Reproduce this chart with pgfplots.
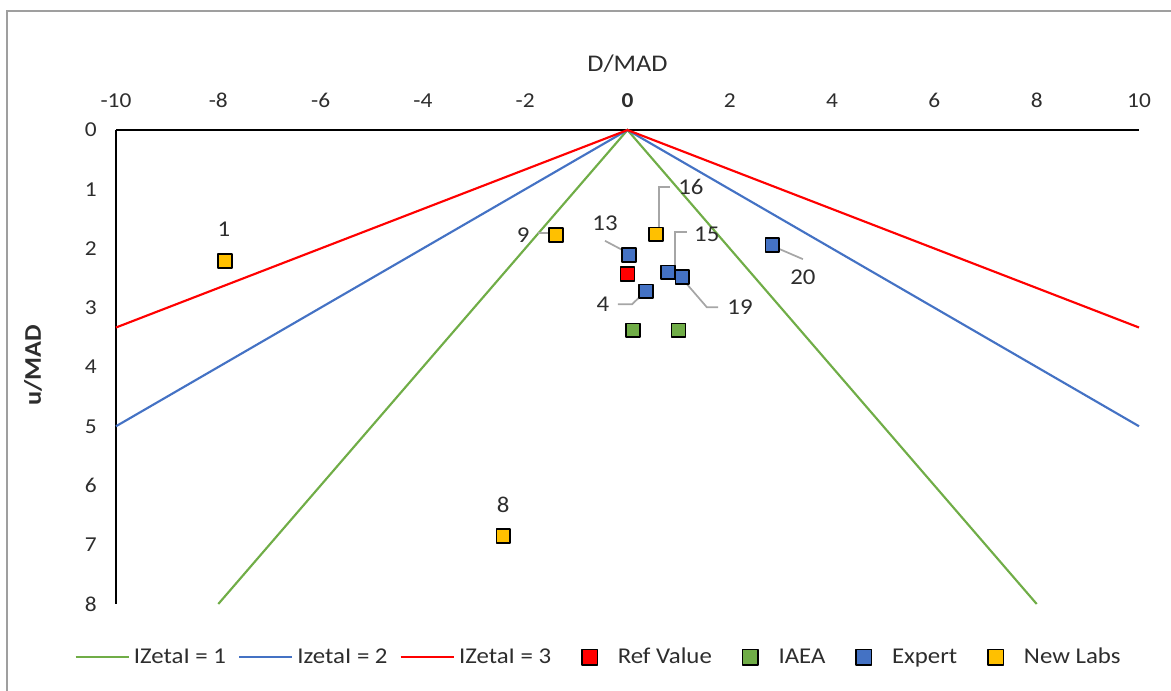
\documentclass[border=0pt]{standalone}
\usepackage{pgfplots}
\pgfplotsset{compat=1.18}
\usepackage{fontspec}
\setmainfont{Carlito}[FakeStretch=1.1]

\definecolor{zgreen}{RGB}{112,173,71}
\definecolor{zblue}{RGB}{68,114,196}
\definecolor{zred}{RGB}{255,0,0}
\definecolor{zgold}{RGB}{255,192,0}
\definecolor{leader}{RGB}{166,166,166}
\definecolor{txt}{RGB}{45,45,45}

\tikzset{
  ptlabel/.style={font=\fontsize{17}{20}\selectfont, text=txt, inner sep=0pt},
  lead/.style={leader, line width=1.3bp},
}
\pgfplotsset{
  sq/.style={only marks, mark=square*, mark size=5.2bp,
    mark options={fill=#1, draw=black, line width=1.1bp, line join=round},
    legend image code/.code={
      \path[draw=none, fill=none] (0bp,0bp) -- (38bp,0bp);
      \draw[fill=#1, draw=black, line width=1.1bp, line join=round]
        (14bp,-5.8bp) rectangle (25.6bp,5.8bp);}},
  zline/.style={#1, line width=1.6bp,
    legend image code/.code={\draw[#1, line width=1.6bp] (0bp,0bp) -- (40bp,0bp);}},
}

\begin{document}
\begin{tikzpicture}
\useasboundingbox (-87bp,-65.25bp) rectangle (791.25bp,453bp);
% chart frame
\draw[gray!75, line width=1.5bp] (-81.75bp,-80bp) -- (-81.75bp,444.75bp) -- (820bp,444.75bp);

\begin{axis}[
  at={(0,0)}, anchor=south west,
  scale only axis, width=767.25bp, height=355.5bp,
  xmin=-10, xmax=10, ymin=0, ymax=8,
  y dir=reverse,
  axis x line*=top, axis y line*=left,
  axis line style={black, line width=1.6bp, -},
  major tick length=0pt,
  xtick={-10,-8,...,10},
  xticklabels={-10,-8,-6,-4,-2,\textbf{0},2,4,6,8,10},
  ytick={0,1,...,8},
  yticklabels={0,1,2,3,4,5,6,7,8},
  tick label style={font=\fontsize{16}{19}\selectfont, text=txt},
  xticklabel style={yshift=13bp},
  yticklabel style={xshift=-11bp},
  xlabel={D/MAD},
  xlabel style={at={(axis description cs:0.5,1)}, anchor=center, yshift=50bp,
    font=\fontsize{18}{21}\selectfont, text=txt},
  ylabel={\textbf{u/MAD}},
  ylabel style={at={(axis description cs:-0.081,0.504)}, anchor=center,
    font=\fontsize{18}{21}\selectfont, text=txt},
  legend style={at={(axis description cs:0.472,-0.112)}, anchor=center,
    draw=none, fill=none, font=\fontsize{17}{20}\selectfont, text=txt,
    /tikz/every even column/.append style={column sep=7bp},
    /tikz/every odd column/.append style={column sep=1bp}},
  legend columns=-1,
  clip=false,
]
% |zeta| limit lines
\addplot[zline=zgreen] coordinates {(-8,8) (0,0) (8,8)};
\addlegendentry{IZetaI = 1}
\addplot[zline=zblue] coordinates {(-10,5) (0,0) (10,5)};
\addlegendentry{IzetaI = 2}
\addplot[zline=zred] coordinates {(-10,3.3333) (0,0) (10,3.3333)};
\addlegendentry{IZetaI = 3}

% leader lines for the point labels
\draw[lead] (axis cs:-1.75,1.74) -- (axis cs:-1.53,1.74);
\draw[lead] (axis cs:0.62,1.65) -- (axis cs:0.62,0.96) -- (axis cs:0.83,0.96);
\draw[lead] (axis cs:-0.44,1.87) -- (axis cs:-0.09,2.03);
\draw[lead] (axis cs:0.93,2.30) -- (axis cs:0.93,1.72) -- (axis cs:1.16,1.72);
\draw[lead] (axis cs:1.16,2.60) -- (axis cs:1.55,2.99) -- (axis cs:1.77,2.99);
\draw[lead] (axis cs:-0.19,2.94) -- (axis cs:0.09,2.94) -- (axis cs:0.26,2.80);
\draw[lead] (axis cs:2.92,1.99) -- (axis cs:3.43,2.18);

% laboratory results
\addplot[sq=zred] coordinates {(0,2.43)};
\addlegendentry{Ref Value}
\addplot[sq=zgreen] coordinates {(0.11,3.38) (1.00,3.38)};
\addlegendentry{IAEA}
\addplot[sq=zblue] coordinates {(0.03,2.11) (0.79,2.40) (1.07,2.48) (0.36,2.72) (2.83,1.94)};
\addlegendentry{Expert}
\addplot[sq=zgold] coordinates {(-7.87,2.21) (-1.40,1.77) (0.56,1.76) (-2.43,6.85)};
\addlegendentry{New Labs}

% point labels
\node[ptlabel] at (axis cs:-7.89,1.67) {1};
\node[ptlabel] at (axis cs:-2.43,6.33) {8};
\node[ptlabel] at (axis cs:-2.04,1.77) {9};
\node[ptlabel] at (axis cs:1.24,0.96) {16};
\node[ptlabel] at (axis cs:-0.44,1.57) {13};
\node[ptlabel] at (axis cs:1.55,1.76) {15};
\node[ptlabel] at (axis cs:2.20,2.99) {19};
\node[ptlabel] at (axis cs:-0.48,2.94) {4};
\node[ptlabel] at (axis cs:3.43,2.48) {20};
\end{axis}
\end{tikzpicture}
\end{document}
